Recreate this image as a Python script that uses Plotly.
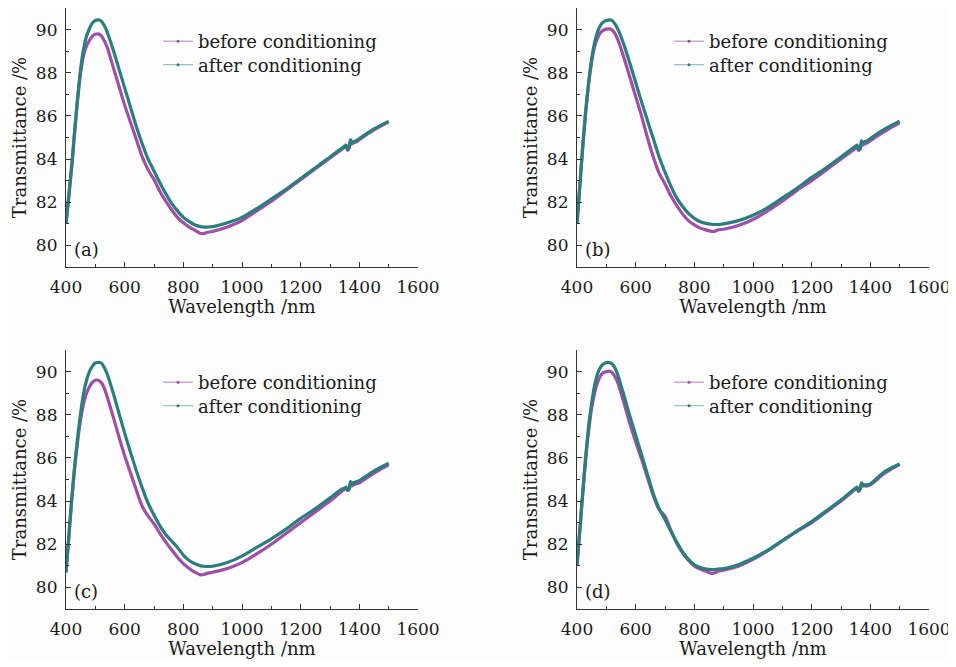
import plotly.graph_objects as go

wavelength = [400, 410, 420, 430, 440, 450, 460, 470, 480, 490, 500, 510, 520, 530, 540,
              560, 580, 600, 620, 640, 660, 680, 700, 720, 740, 760, 780, 800, 820, 840,
              860, 870, 880, 900, 950, 1000, 1050, 1100, 1150, 1200, 1250, 1300, 1340,
              1350, 1355, 1360, 1365, 1370, 1375, 1380, 1390, 1400, 1450, 1500]

a_before = [81.0, 82.3, 83.7, 85.3, 86.8, 88.0, 88.8, 89.25, 89.5, 89.7, 89.78, 89.8, 89.72, 89.5, 89.2,
            88.3, 87.4, 86.5, 85.7, 84.9, 84.1, 83.5, 83.05, 82.5, 82.05, 81.65, 81.3, 81.05, 80.85, 80.7,
            80.55, 80.55, 80.6, 80.65, 80.85, 81.15, 81.6, 82.05, 82.55, 83.05, 83.55, 84.05, 84.45,
            84.55, 84.6, 84.4, 84.5, 84.85, 84.7, 84.75, 84.8, 84.9, 85.35, 85.72]
a_after = [81.0, 82.4, 83.8, 85.4, 86.9, 88.2, 89.1, 89.7, 90.05, 90.3, 90.42, 90.45, 90.4, 90.2, 89.9,
           89.1, 88.2, 87.3, 86.4, 85.5, 84.7, 84.0, 83.45, 82.9, 82.4, 81.95, 81.6, 81.3, 81.1, 80.95,
           80.87, 80.85, 80.85, 80.87, 81.05, 81.3, 81.7, 82.15, 82.6, 83.1, 83.6, 84.1, 84.5,
           84.6, 84.65, 84.45, 84.55, 84.9, 84.75, 84.8, 84.85, 84.95, 85.4, 85.75]

b_before = [81.0, 82.8, 84.6, 86.2, 87.5, 88.5, 89.2, 89.6, 89.85, 89.97, 90.02, 90.03, 89.98, 89.8, 89.5,
            88.7, 87.8, 86.9, 86.0, 85.0, 84.1, 83.35, 82.85, 82.3, 81.85, 81.45, 81.15, 80.95, 80.8, 80.72,
            80.65, 80.65, 80.72, 80.75, 80.92, 81.2, 81.6, 82.05, 82.55, 83.0, 83.5, 84.0, 84.4,
            84.5, 84.5, 84.4, 84.45, 84.7, 84.65, 84.7, 84.75, 84.85, 85.3, 85.68]
b_after = [81.0, 82.85, 84.7, 86.3, 87.6, 88.65, 89.4, 89.9, 90.2, 90.35, 90.42, 90.45, 90.42, 90.25, 90.0,
           89.3, 88.45, 87.55, 86.65, 85.8, 84.95, 84.1, 83.4, 82.75, 82.2, 81.8, 81.48, 81.25, 81.1, 81.02,
           80.98, 80.97, 80.97, 81.0, 81.15, 81.4, 81.75, 82.2, 82.65, 83.15, 83.6, 84.1, 84.5,
           84.6, 84.65, 84.45, 84.5, 84.85, 84.75, 84.8, 84.85, 84.95, 85.4, 85.76]

c_before = [80.7, 82.4, 84.1, 85.6, 86.8, 87.8, 88.5, 89.0, 89.3, 89.5, 89.6, 89.6, 89.5, 89.25, 88.85,
            87.95, 87.0, 86.1, 85.3, 84.5, 83.75, 83.3, 82.95, 82.5, 82.1, 81.75, 81.4, 81.1, 80.88, 80.7,
            80.58, 80.6, 80.65, 80.7, 80.88, 81.15, 81.55, 82.0, 82.5, 83.0, 83.5, 84.0, 84.45,
            84.55, 84.6, 84.5, 84.55, 84.85, 84.7, 84.75, 84.8, 84.85, 85.3, 85.68]
c_after = [80.7, 82.45, 84.2, 85.7, 87.0, 88.1, 89.0, 89.6, 90.0, 90.25, 90.4, 90.43, 90.4, 90.2, 89.9,
           89.05, 88.1, 87.15, 86.25, 85.4, 84.6, 83.9, 83.35, 82.85, 82.45, 82.15, 81.85, 81.5, 81.25, 81.1,
           81.0, 80.98, 80.97, 80.98, 81.15, 81.45, 81.85, 82.25, 82.7, 83.2, 83.65, 84.15, 84.55,
           84.6, 84.65, 84.5, 84.55, 84.9, 84.8, 84.85, 84.9, 84.95, 85.4, 85.76]

d_before = [81.0, 82.7, 84.4, 86.0, 87.3, 88.3, 89.0, 89.5, 89.8, 89.95, 90.0, 90.02, 89.95, 89.75, 89.45,
            88.55, 87.6, 86.75, 85.95, 85.1, 84.25, 83.6, 83.3, 82.65, 82.05, 81.6, 81.25, 81.0, 80.85, 80.75,
            80.65, 80.68, 80.75, 80.8, 80.98, 81.3, 81.7, 82.15, 82.6, 83.0, 83.5, 84.0, 84.45,
            84.55, 84.55, 84.45, 84.55, 84.8, 84.7, 84.7, 84.7, 84.75, 85.3, 85.7]
d_after = [81.0, 82.75, 84.5, 86.1, 87.5, 88.55, 89.35, 89.9, 90.2, 90.35, 90.42, 90.42, 90.35, 90.15, 89.8,
           88.9, 87.95, 87.05, 86.15, 85.25, 84.35, 83.65, 83.15, 82.6, 82.1, 81.65, 81.3, 81.05, 80.92, 80.85,
           80.83, 80.83, 80.85, 80.87, 81.05, 81.35, 81.72, 82.17, 82.62, 83.05, 83.55, 84.05, 84.5,
           84.6, 84.65, 84.45, 84.55, 84.85, 84.75, 84.75, 84.75, 84.8, 85.38, 85.72]

panel_labels = ["(a)", "(b)", "(c)", "(d)"]
series_names = ["before conditioning", "after conditioning"]
x_ticks = [400, 600, 800, 1000, 1200, 1400, 1600]
y_ticks = [80, 82, 84, 86, 88, 90]

panels = [(a_before, a_after), (b_before, b_after), (c_before, c_after), (d_before, d_after)]

PURPLE = "#a04fa8"
TEAL = "#2a7f7d"
PURPLE_L = "#c98fd0"
TEAL_L = "#9cc2c2"
FONT = "DejaVu Serif"
FS = 18
TFS = 17
TXT = "#1a1a1a"

# the page body has an 8px margin; the figure is placed so that its plots land
# where the reference has them (positions below are page pixels)
W, H = 948, 651
PX_X = [(66, 418), (577, 929), (66, 418), (577, 929)]
PX_Y = [(8, 267), (8, 267), (350, 609), (350, 609)]
x_domains = [[(a - 8) / W, (b - 8) / W] for a, b in PX_X]
y_domains = [[1 - (b - 8) / H, 1 - (a - 8) / H] for a, b in PX_Y]

fig = go.Figure()
layout = dict(
    template="none",
    width=W, height=H,
    margin=dict(l=0, r=0, t=0, b=0, autoexpand=False),
    paper_bgcolor="#fdfdfd", plot_bgcolor="#fdfdfd",
    font=dict(family=FONT, size=FS, color=TXT),
    annotations=[],
)

for i, (before, after) in enumerate(panels):
    n = i + 1
    xa = "x" if n == 1 else f"x{n}"
    ya = "y" if n == 1 else f"y{n}"
    fig.add_trace(go.Scatter(x=wavelength, y=before, xaxis=xa, yaxis=ya, mode="lines",
                             line=dict(color=PURPLE, width=3.2, shape="spline", smoothing=0.7),
                             showlegend=False, hoverinfo="skip"))
    fig.add_trace(go.Scatter(x=wavelength, y=after, xaxis=xa, yaxis=ya, mode="lines",
                             line=dict(color=TEAL, width=3.2, shape="spline", smoothing=0.7),
                             showlegend=False, hoverinfo="skip"))
    for k, (name, lc, mc) in enumerate([(series_names[0], PURPLE_L, PURPLE),
                                         (series_names[1], TEAL_L, TEAL)]):
        li = 2 * i + k + 1
        lg = "legend" if li == 1 else f"legend{li}"
        fig.add_trace(go.Scatter(x=[None], y=[None], xaxis=xa, yaxis=ya, mode="lines+markers",
                                 name=name, legend=lg,
                                 line=dict(color=lc, width=1.2),
                                 marker=dict(color=mc, size=3)))
        top_px = (1 - y_domains[i][1]) * H + (15 if i < 2 else 14) + 23.5 * k
        layout[lg] = dict(
            x=x_domains[i][0] + 92 / W, y=1 - top_px / H,
            xanchor="left", yanchor="top",
            bgcolor="rgba(0,0,0,0)", borderwidth=0,
            font=dict(family=FONT, size=FS, color=TXT),
            itemwidth=30,
        )
    axkey = "xaxis" if n == 1 else f"xaxis{n}"
    aykey = "yaxis" if n == 1 else f"yaxis{n}"
    layout[axkey] = dict(
        domain=x_domains[i], anchor=ya, range=[400, 1600], automargin=False,
        tickvals=x_ticks, ticktext=[str(v) for v in x_ticks],
        ticks="inside", ticklen=5, tickwidth=1, tickcolor="#333",
        showline=True, linecolor="#333", linewidth=1.2, mirror=False,
        showgrid=False, zeroline=False, ticklabelstandoff=4,
        minor=dict(ticks="inside", ticklen=3, dtick=100, tick0=400, tickcolor="#333", showgrid=False),
        tickfont=dict(family=FONT, size=TFS, color=TXT),
        title=dict(text="Wavelength /nm", font=dict(family=FONT, size=FS, color=TXT), standoff=0),
    )
    layout[aykey] = dict(
        domain=y_domains[i], anchor=xa, range=[79, 91], automargin=False,
        tickvals=y_ticks, ticktext=[str(v) for v in y_ticks],
        ticks="inside", ticklen=5, tickwidth=1, tickcolor="#333",
        showline=True, linecolor="#333", linewidth=1.2, mirror=False,
        showgrid=False, zeroline=False, ticklabelstandoff=4,
        minor=dict(ticks="inside", ticklen=3, dtick=1, tick0=79, tickcolor="#333", showgrid=False),
        tickfont=dict(family=FONT, size=TFS, color=TXT),
        title=dict(text="Transmittance /%", font=dict(family=FONT, size=FS, color=TXT), standoff=4),
    )
    layout["annotations"].append(dict(
        x=420, y=79.8, xref=xa, yref=ya, text=panel_labels[i], showarrow=False,
        xanchor="left", yanchor="middle", font=dict(family=FONT, size=FS, color=TXT),
    ))

fig.update_layout(**layout)
fig.write_html("out.html")
